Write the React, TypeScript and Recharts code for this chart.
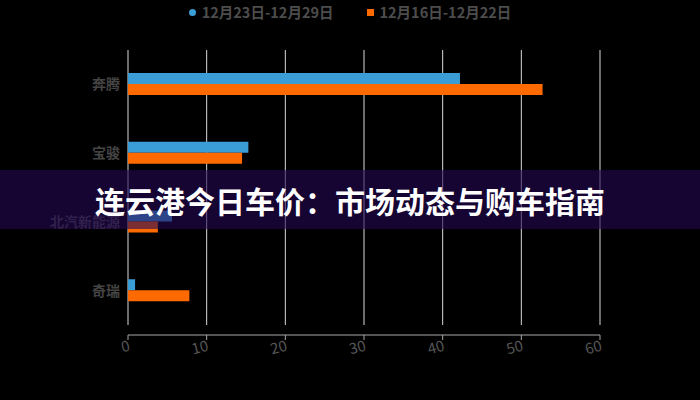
import React from 'react';
import { BarChart, Bar, XAxis, YAxis, CartesianGrid } from 'recharts';

const brands = ['奔腾', '宝骏', '北汽新能源', '奇瑞'];
const lastWeek = [42.2, 15.3, 5.6, 0.9];
const prevWeek = [52.7, 14.5, 3.8, 7.8];
const seriesNames = ['12月23日-12月29日', '12月16日-12月22日'];
const xTicks = [0, 10, 20, 30, 40, 50, 60];
const title = '连云港今日车价：市场动态与购车指南';

const BLUE = '#3b9dd6';
const ORANGE = '#ff6a00';
const FONT = '"Noto Sans CJK SC", "Noto Sans", sans-serif';

const data = brands.map((name, i) => ({
  name,
  recent: lastWeek[i],
  earlier: prevWeek[i],
}));

// legend sits above the plot, outside the chart's layout
const ChartLegend: React.FC = () => (
  <div
    style={{
      position: 'absolute',
      left: 0,
      top: 2,
      width: 700,
      display: 'flex',
      justifyContent: 'center',
      gap: 33,
      fontFamily: FONT,
      fontSize: 14.5,
      fontWeight: 600,
      color: '#4d4d4d',
      lineHeight: '20px',
    }}
  >
    <span style={{ display: 'flex', alignItems: 'center' }}>
      <span
        style={{
          width: 7,
          height: 7,
          borderRadius: '50%',
          background: BLUE,
          marginRight: 6,
        }}
      />
      {seriesNames[0]}
    </span>
    <span style={{ display: 'flex', alignItems: 'center' }}>
      <span
        style={{ width: 7, height: 7, background: ORANGE, marginRight: 6 }}
      />
      {seriesNames[1]}
    </span>
  </div>
);

const App: React.FC = () => {
  return (
    <div
      style={{
        position: 'fixed',
        left: 0,
        top: 0,
        width: 700,
        height: 400,
        background: '#000',
        overflow: 'hidden',
      }}
    >
      <BarChart
        width={700}
        height={400}
        data={data}
        layout="vertical"
        margin={{ top: 50, right: 100, bottom: 35, left: 8 }}
        barSize={11}
        barGap={0}
      >
        <CartesianGrid
          horizontal={false}
          stroke="#d8d8d8"
          strokeWidth={1}
          y={50}
          height={275}
        />
        <XAxis
          type="number"
          domain={[0, 60]}
          ticks={xTicks}
          height={30}
          stroke="#a8a8a8"
          tickSize={5}
          tick={{
            fill: '#555',
            fontSize: 15,
            fontFamily: FONT,
            angle: -15,
            textAnchor: 'end',
          }}
          tickMargin={0}
        />
        <YAxis
          type="category"
          dataKey="name"
          width={120}
          axisLine={false}
          tickLine={false}
          padding={{ top: 0, bottom: 10 }}
          tick={{
            fill: '#444',
            fontSize: 14,
            fontWeight: 700,
            fontFamily: FONT,
          }}
        />
        <Bar
          dataKey="recent"
          name={seriesNames[0]}
          fill={BLUE}
          isAnimationActive={false}
        />
        <Bar
          dataKey="earlier"
          name={seriesNames[1]}
          fill={ORANGE}
          isAnimationActive={false}
        />
      </BarChart>
      <ChartLegend />
      <div
        style={{
          position: 'absolute',
          left: 0,
          top: 170,
          width: 700,
          height: 59,
          background: 'rgba(37, 8, 83, 0.6)',
          display: 'flex',
          alignItems: 'center',
          justifyContent: 'center',
          color: '#fff',
          fontFamily: FONT,
          fontWeight: 700,
          fontSize: 30,
        }}
      >
        {title}
      </div>
    </div>
  );
};

export default App;
